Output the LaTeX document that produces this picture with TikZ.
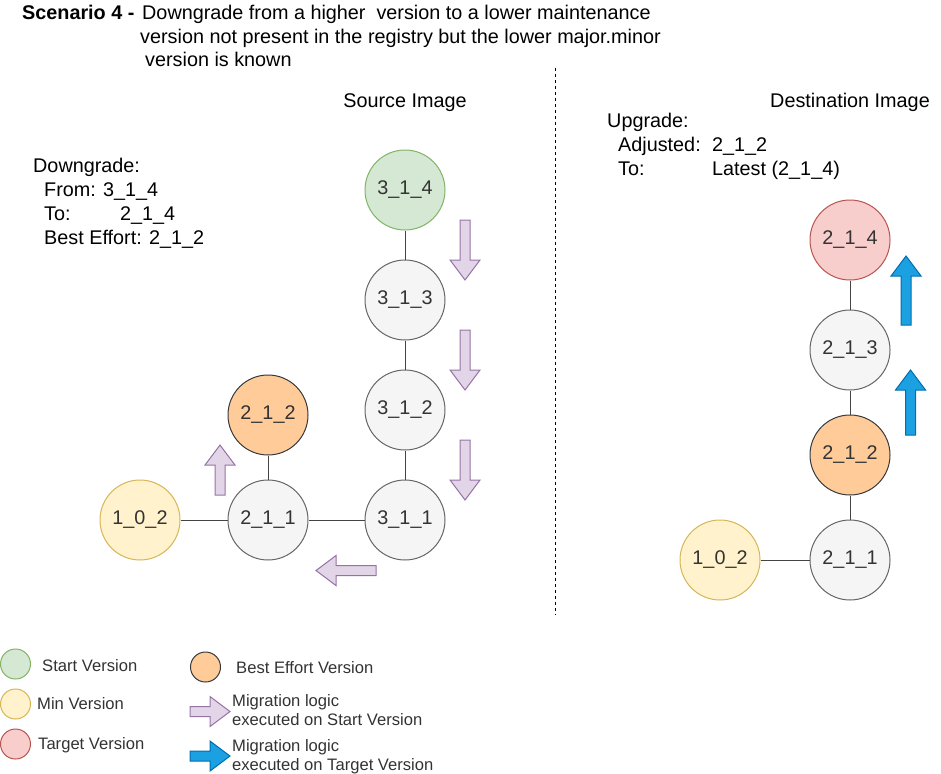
\documentclass[tikz,border=0pt]{standalone}
\usepackage{fontspec}
\setmainfont{Liberation Sans}
\definecolor{grayfill}{HTML}{F5F5F5}
\definecolor{graystroke}{HTML}{666666}
\definecolor{greenfill}{HTML}{D5E8D4}
\definecolor{greenstroke}{HTML}{82B366}
\definecolor{yellowfill}{HTML}{FFF2CC}
\definecolor{yellowstroke}{HTML}{D6B656}
\definecolor{redfill}{HTML}{F8CECC}
\definecolor{redstroke}{HTML}{B85450}
\definecolor{orangefill}{HTML}{FFCC99}
\definecolor{orangestroke}{HTML}{36393D}
\definecolor{purplefill}{HTML}{E1D5E7}
\definecolor{purplestroke}{HTML}{9673A6}
\definecolor{bluefill}{HTML}{1BA1E2}
\definecolor{bluestroke}{HTML}{006EAF}
\definecolor{labeltext}{HTML}{333333}
\definecolor{edgecol}{HTML}{444444}
\tikzset{
  ver/.style={circle, draw=graystroke, fill=grayfill, minimum size=80pt, inner sep=0pt,
    line width=1pt, text=labeltext, font=\fontsize{19.8}{23}\selectfont},
  startv/.style={ver, draw=greenstroke, fill=greenfill},
  minv/.style={ver, draw=yellowstroke, fill=yellowfill},
  targetv/.style={ver, draw=redstroke, fill=redfill},
  bestv/.style={ver, draw=orangestroke, fill=orangefill},
  edge/.style={draw=edgecol, line width=1pt},
  purparrow/.style={draw=purplestroke, fill=purplefill, line width=1pt},
  bluearrow/.style={draw=bluestroke, fill=bluefill, line width=1pt},
  txt/.style={inner sep=0pt, anchor=base west, font=\fontsize{19.8}{23}\selectfont},
  legtxt/.style={inner sep=0pt, anchor=base west, font=\fontsize{16.6}{19}\selectfont, text=labeltext},
  legdot/.style={circle, minimum size=30pt, inner sep=0pt, line width=1pt},
}
\newcommand\blockarrow[5]{%
  \draw[#1, shift={(#2,#3)}, rotate=#4] (0,-5) -- (#5-20,-5) -- (#5-20,-15) -- (#5,0)
    -- (#5-20,15) -- (#5-20,5) -- (0,5) -- cycle;}
\begin{document}
\begin{tikzpicture}[x=1pt, y=-1pt]
\useasboundingbox (0,0) rectangle (941,773);

% title
\node[txt, font=\fontsize{19.8}{23}\bfseries\selectfont] (t0) at (22,20) {Scenario 4 -};
\node[txt] (t1) at (142,20) {Downgrade from a higher\ \ version to a lower maintenance};
\node[txt] (t2) at (140,44) {version not present in the registry but the lower major.minor};
\node[txt] (t3) at (145,67) {version is known};

% divider
\draw[dashed, line width=1pt, black] (555,68) -- (555,615);

% headers
\node[txt, anchor=base] (src) at (405,108) {Source Image};
\node[txt] (dst) at (770,108) {Destination Image};

% left text
\node[txt] (dg) at (33,172) {Downgrade:};
\node[txt] (dgf) at (44,196) {From:};
\node[txt] (dgfv) at (103,196) {3\_1\_4};
\node[txt] (dgt) at (44,220) {To:};
\node[txt] (dgtv) at (120,220) {2\_1\_4};
\node[txt] (dgb) at (44,244) {Best Effort: 2\_1\_2};

% right text
\node[txt] (up) at (607,127) {Upgrade:};
\node[txt] (upa) at (618,151) {Adjusted:};
\node[txt] (upav) at (712,151) {2\_1\_2};
\node[txt] (upt) at (618,175) {To:};
\node[txt] (uptv) at (712,175) {Latest (2\_1\_4)};

% source graph
\node[startv] (s314) at (405,190) {3\_1\_4};
\node[ver] (s313) at (405,300) {3\_1\_3};
\node[ver] (s312) at (405,410) {3\_1\_2};
\node[ver] (s311) at (405,520) {3\_1\_1};
\node[ver] (s211) at (268,520) {2\_1\_1};
\node[bestv] (s212) at (268,415) {2\_1\_2};
\node[minv] (s102) at (140,520) {1\_0\_2};
\draw[edge] (s314) -- (s313);
\draw[edge] (s313) -- (s312);
\draw[edge] (s312) -- (s311);
\draw[edge] (s311) -- (s211);
\draw[edge] (s211) -- (s102);
\draw[edge] (s211) -- (s212);

% source arrows
\blockarrow{purparrow}{465}{220}{-90}{60}
\blockarrow{purparrow}{465}{330}{-90}{60}
\blockarrow{purparrow}{465}{440}{-90}{60}
\blockarrow{purparrow}{376}{570.5}{180}{60}
\blockarrow{purparrow}{220}{495}{90}{50}

% destination graph
\node[targetv] (d214) at (850,240) {2\_1\_4};
\node[ver] (d213) at (850,350) {2\_1\_3};
\node[bestv] (d212) at (850,455) {2\_1\_2};
\node[ver] (d211) at (850,560) {2\_1\_1};
\node[minv] (d102) at (720,560) {1\_0\_2};
\draw[edge] (d214) -- (d213);
\draw[edge] (d213) -- (d212);
\draw[edge] (d212) -- (d211);
\draw[edge] (d211) -- (d102);

\blockarrow{bluearrow}{906}{325}{90}{69}
\blockarrow{bluearrow}{910.5}{435}{90}{65}

% legend
\node[legdot, draw=greenstroke, fill=greenfill] (lg) at (15.5,664) {};
\node[legtxt] (lgt) at (42,671) {Start Version};
\node[legdot, draw=yellowstroke, fill=yellowfill] (ly) at (15.5,704) {};
\node[legtxt] (lyt) at (37,709) {Min Version};
\node[legdot, draw=redstroke, fill=redfill] (lr) at (15.5,744) {};
\node[legtxt] (lrt) at (38,749) {Target Version};
\node[legdot, draw=orangestroke, fill=orangefill] (lo) at (205.5,667) {};
\node[legtxt] (lot) at (236,673) {Best Effort Version};
\blockarrow{purparrow}{190}{711.5}{0}{40}
\node[legtxt] (lp1) at (232,706) {Migration logic};
\node[legtxt] (lp2) at (232,725) {executed on Start Version};
\blockarrow{bluearrow}{190}{756}{0}{40}
\node[legtxt] (lb1) at (232,751) {Migration logic};
\node[legtxt] (lb2) at (232,770) {executed on Target Version};
\end{tikzpicture}
\end{document}
